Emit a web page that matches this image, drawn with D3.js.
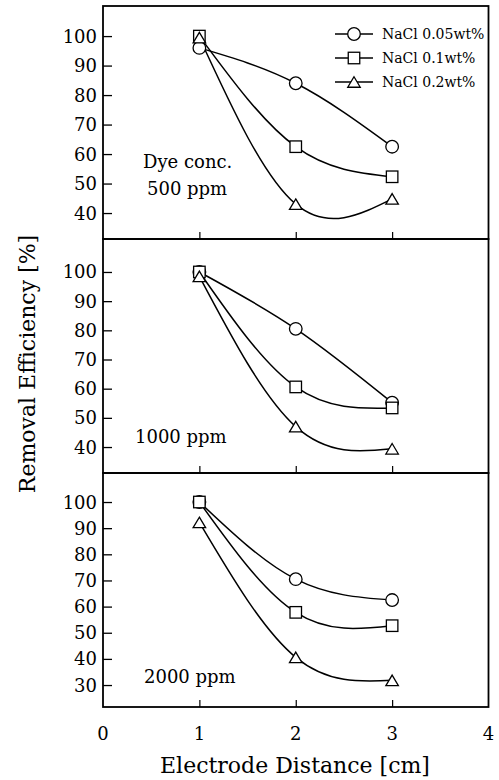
<!DOCTYPE html>
<html>
<head>
<meta charset="utf-8">
<script src="https://cdn.jsdelivr.net/npm/d3@7/dist/d3.min.js"></script>
<style>
  html, body { margin: 0; padding: 0; background: #fff; }
  svg { display: block; }
  text { font-family: "DejaVu Serif", "Liberation Serif", serif; fill: #000; }
</style>
</head>
<body>
<svg id="chart" width="499" height="780"></svg>
<script>
// Electrode distance (cm) at which removal efficiency was measured
const distances = [1, 2, 3];

// Series labels (NaCl concentration)
const seriesNames = ["NaCl 0.05wt%", "NaCl 0.1wt%", "NaCl 0.2wt%"];
const seriesShapes = ["circle", "square", "triangle"];

// Removal efficiency [%] — dye concentration 500 ppm
const eff500_nacl005 = [96, 84, 62.5];
const eff500_nacl01  = [100, 62.5, 52.3];
const eff500_nacl02  = [99.5, 43, 44.8];

// Removal efficiency [%] — dye concentration 1000 ppm
const eff1000_nacl005 = [100, 80.5, 55.2];
const eff1000_nacl01  = [100, 60.6, 53.4];
const eff1000_nacl02  = [98.5, 47, 39.4];

// Removal efficiency [%] — dye concentration 2000 ppm
const eff2000_nacl005 = [100, 70.5, 62.5];
const eff2000_nacl01  = [100, 57.8, 52.7];
const eff2000_nacl02  = [92.2, 40.6, 31.8];

// Axis ticks
const xTickValues = [0, 1, 2, 3, 4];
const xTickLabels = ["0", "1", "2", "3", "4"];
const yTicksPanel1 = [40, 50, 60, 70, 80, 90, 100];
const yTicksPanel2 = [40, 50, 60, 70, 80, 90, 100];
const yTicksPanel3 = [30, 40, 50, 60, 70, 80, 90, 100];

// Panel labels
const panelLabels = [["Dye conc.", "500 ppm"], ["1000 ppm"], ["2000 ppm"]];

const panels = [
  { series: [eff500_nacl005, eff500_nacl01, eff500_nacl02], ticks: yTicksPanel1,
    domain: [31.2, 110.2], top: 6, bottom: 239, label: panelLabels[0],
    labelX: 143, labelY: [168, 195] },
  { series: [eff1000_nacl005, eff1000_nacl01, eff1000_nacl02], ticks: yTicksPanel2,
    domain: [31.1, 111.3], top: 239, bottom: 473, label: panelLabels[1],
    labelX: 135, labelY: [443] },
  { series: [eff2000_nacl005, eff2000_nacl01, eff2000_nacl02], ticks: yTicksPanel3,
    domain: [21.6, 111.1], top: 473, bottom: 707, label: panelLabels[2],
    labelX: 144, labelY: [683] }
];

const ink = "#000";
const svg = d3.select("#chart");
const left = 103, right = 488.5;
const x = d3.scaleLinear().domain([0, 4]).range([left, right]);

// Marker drawing helpers (white-filled outline symbols)
function drawMarker(g, shape, cx, cy) {
  const sw = 1.3;
  if (shape === "circle") {
    g.append("circle").attr("cx", cx).attr("cy", cy).attr("r", 6.3)
      .attr("fill", "#fff").attr("stroke", ink).attr("stroke-width", sw);
  } else if (shape === "square") {
    const s = 11.5;
    g.append("rect").attr("x", cx - s / 2).attr("y", cy - s / 2)
      .attr("width", s).attr("height", s)
      .attr("fill", "#fff").attr("stroke", ink).attr("stroke-width", sw);
  } else {
    const w = 12.5, h = 10.5;
    const pts = [[cx, cy - h / 2], [cx + w / 2, cy + h / 2], [cx - w / 2, cy + h / 2]];
    g.append("path").attr("d", "M" + pts.map(p => p.join(",")).join("L") + "Z")
      .attr("fill", "#fff").attr("stroke", ink).attr("stroke-width", sw)
      .attr("stroke-linejoin", "miter");
  }
}

panels.forEach((p) => {
  const y = d3.scaleLinear().domain(p.domain).range([p.bottom, p.top]);
  const g = svg.append("g");

  // Left axis with inward ticks
  const yAxis = d3.axisRight(y).tickValues(p.ticks).tickSize(9).tickFormat("");
  const ya = g.append("g").attr("transform", `translate(${left},0)`).call(yAxis);
  ya.select(".domain").remove();
  ya.selectAll(".tick line").attr("stroke", ink).attr("stroke-width", 1.3);

  g.selectAll(".ylab").data(p.ticks).enter().append("text")
    .attr("x", 97).attr("y", d => y(d)).attr("dy", "0.36em")
    .attr("text-anchor", "end").attr("font-size", 18)
    .text(d => d);

  // Bottom axis ticks pointing up at x = 1, 2, 3
  const xAxis = d3.axisTop(x).tickValues([1, 2, 3]).tickSize(7).tickFormat("");
  const xa = g.append("g").attr("transform", `translate(0,${p.bottom})`).call(xAxis);
  xa.select(".domain").remove();
  xa.selectAll(".tick line").attr("stroke", ink).attr("stroke-width", 1.2);

  // Curves
  const line = d3.line().curve(d3.curveNatural)
    .x((d, i) => x(distances[i])).y(d => y(d));
  p.series.forEach((vals) => {
    g.append("path").datum(vals).attr("d", line)
      .attr("fill", "none").attr("stroke", ink).attr("stroke-width", 1.5);
  });

  // Markers
  p.series.forEach((vals, si) => {
    vals.forEach((v, i) => drawMarker(g, seriesShapes[si], x(distances[i]), y(v)));
  });

  // Frame
  g.append("rect").attr("x", left).attr("y", p.top)
    .attr("width", right - left).attr("height", p.bottom - p.top)
    .attr("fill", "none").attr("stroke", ink).attr("stroke-width", 1.8);

  // Panel label
  p.label.forEach((t, i) => {
    g.append("text").attr("x", p.labelX + (i === 1 ? 4 : 0)).attr("y", p.labelY[i])
      .attr("font-size", 18).text(t);
  });
});

// Legend inside the top panel
const legend = svg.append("g");
const legendRows = [34, 58, 82];
seriesNames.forEach((name, i) => {
  const ly = legendRows[i];
  legend.append("line").attr("x1", 335).attr("x2", 373).attr("y1", ly).attr("y2", ly)
    .attr("stroke", ink).attr("stroke-width", 1.5);
  drawMarker(legend, seriesShapes[i], 354, ly);
  legend.append("text").attr("x", 382).attr("y", ly).attr("dy", "0.35em")
    .attr("font-size", 14).text(name);
});

// X axis tick labels
svg.selectAll(".xlab").data(xTickValues).enter().append("text")
  .attr("x", d => x(d)).attr("y", 740)
  .attr("text-anchor", "middle").attr("font-size", 18)
  .text((d, i) => xTickLabels[i]);

// Axis titles
svg.append("text").attr("x", 295).attr("y", 773)
  .attr("text-anchor", "middle").attr("font-size", 22)
  .text("Electrode Distance [cm]");

svg.append("text")
  .attr("transform", "translate(35,364) rotate(-90)")
  .attr("text-anchor", "middle").attr("font-size", 22)
  .text("Removal Efficiency [%]");
</script>
</body>
</html>
